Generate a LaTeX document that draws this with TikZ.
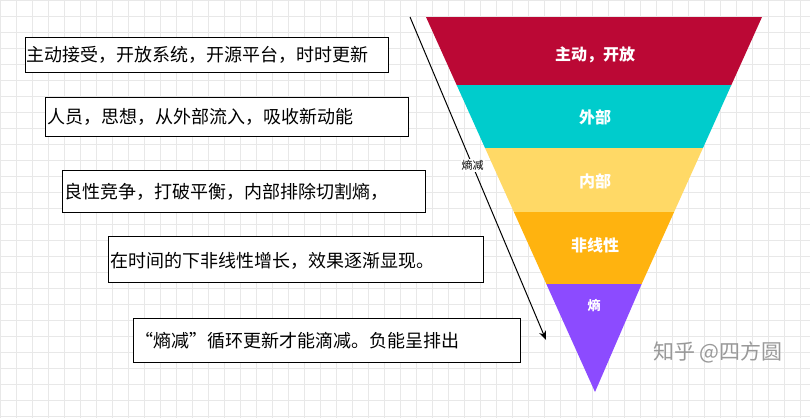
\documentclass[tikz,border=0pt]{standalone}
\usepackage{fontspec}
\setmainfont{Noto Sans CJK SC}
\usetikzlibrary{arrows.meta}
\begin{document}
\begin{tikzpicture}[x=1pt,y=-1pt,
 box/.style={draw=black,line width=1pt,fill=white,anchor=north west,inner sep=0pt},
 txt/.style={anchor=west,inner sep=0pt,font=\fontsize{18}{18}\selectfont},
 band/.style={font=\bfseries\fontsize{16}{16}\selectfont,text=white}]
\useasboundingbox (0,0) rectangle (810,418);
\fill[white] (0,0) rectangle (810,418);
\foreach \i in {0,16,...,810} \draw[black!9,line width=0.5pt] (\i,0) -- (\i,418);
\foreach \j in {0,16,...,418} \draw[black!9,line width=0.5pt] (0,\j) -- (810,\j);
\def\L#1{426+(#1-17)*0.4507}
\def\R#1{762-(#1-17)*0.4507}
\fill[fill={rgb,255:red,187;green,8;blue,53}] (426,17) -- (762,17) -- ({\R{85}},85) -- ({\L{85}},85) -- cycle;
\fill[fill={rgb,255:red,0;green,204;blue,204}] ({\L{85}},85) -- ({\R{85}},85) -- ({\R{148}},148) -- ({\L{148}},148) -- cycle;
\fill[fill={rgb,255:red,255;green,217;blue,102}] ({\L{148}},148) -- ({\R{148}},148) -- ({\R{212}},212) -- ({\L{212}},212) -- cycle;
\fill[fill={rgb,255:red,255;green,179;blue,15}] ({\L{212}},212) -- ({\R{212}},212) -- ({\R{284}},284) -- ({\L{284}},284) -- cycle;
\fill[fill={rgb,255:red,140;green,75;blue,255}] ({\L{284}},284) -- ({\R{284}},284) -- (595,392) -- cycle;
\node[band] (b1) at (595,55) {主动，开放};
\node[band] (b2) at (595,117) {外部};
\node[band] (b3) at (595,181) {内部};
\node[band] (b4) at (595,245) {非线性};
\node[band,font=\bfseries\fontsize{13}{13}\selectfont] (b5) at (594,306) {熵};
\node[box,minimum width=363,minimum height=35] (t1) at (25,37) {};
\node[txt] at (26,54.5) {主动接受，开放系统，开源平台，时时更新};
\node[box,minimum width=363,minimum height=39] (t2) at (45,97) {};
\node[txt] at (47,117) {人员，思想，从外部流入，吸收新动能};
\node[box,minimum width=363,minimum height=42] (t3) at (62,170) {};
\node[txt] at (64,192) {良性竞争，打破平衡，内部排除切割熵，};
\node[box,minimum width=375,minimum height=46] (t4) at (108,236) {};
\node[txt] at (110,261) {在时间的下非线性增长，效果逐渐显现。};
\node[box,minimum width=387,minimum height=44] (t5) at (133,318) {};
\node[txt] at (135,341) {“熵减”循环更新才能滴减。负能呈排出};
\coordinate (a0) at (410,17);
\coordinate (a1) at (546,340);
\draw[line width=1pt,-{Stealth[length=9pt,width=7pt]}] (a0) -- (a1) node[pos=0.46,fill=white,inner sep=1pt,font=\fontsize{11}{11}\selectfont] (lab) {熵减};
\node[text=black!40,font=\fontsize{21}{21}\selectfont] (wm) at (718,352) {知乎 @四方圆};
\end{tikzpicture}
\end{document}
